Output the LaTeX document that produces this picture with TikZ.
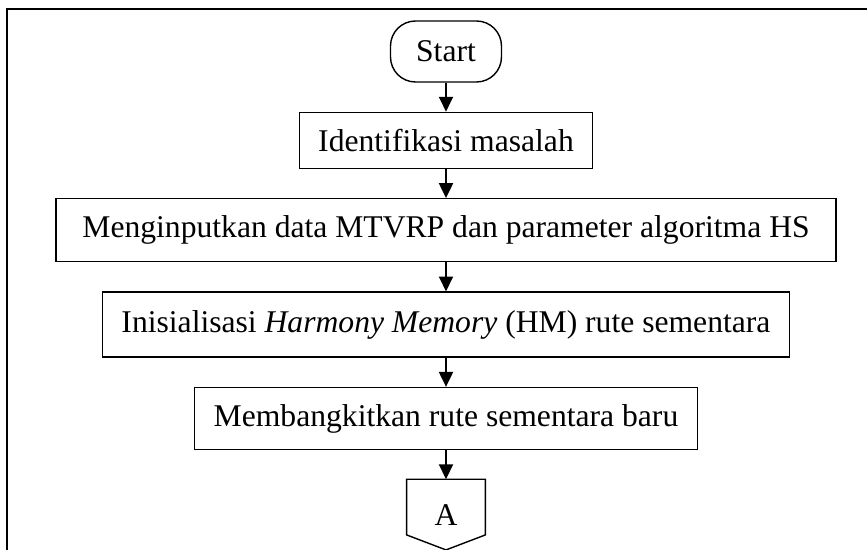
\documentclass[tikz,border=0pt]{standalone}
\usepackage{fontspec}
\setmainfont{Liberation Serif}
\usetikzlibrary{positioning}
\usetikzlibrary{arrows.meta}

\tikzset{
  boxtext/.style={font=\fontsize{18}{22}\selectfont},
  process/.style={boxtext, draw, line width=0.8pt, inner xsep=0.38cm},
  terminal/.style={boxtext, draw, line width=0.8pt, rounded corners=0.5cm, minimum width=2.22cm, minimum height=1.22cm},
  flow/.style={line width=1pt, -{Triangle[length=8.5pt,width=8pt]}},
}

\begin{document}
\begin{tikzpicture}[x=0.02cm, y=-0.02cm, node distance=0.58cm]
        \useasboundingbox (0,0) rectangle (867,550);
        \draw[line width=1.1pt] (7,550) -- (7,9) -- (867,9);
        \node[terminal] (start) at (446,51.5) {Start};
        \node[process, below=of start, minimum height=1.12cm] (ident) {Identifikasi masalah};
        \node[process, below=of ident, minimum height=1.26cm, minimum width=15.6cm] (input) {Menginputkan data MTVRP dan parameter algoritma HS};
        \node[process, below=of input, minimum height=1.3cm] (init) {Inisialisasi \textit{Harmony Memory} (HM) rute sementara};
        \node[process, below=of init, minimum height=1.24cm] (baru) {Membangkitkan rute sementara baru};
        \node[boxtext, below=of baru, minimum width=1.56cm, minimum height=1.4cm] (conA) {A};
        \draw[line width=0.8pt] (conA.north west) -- (conA.north east) -- ([yshift=0.3cm]conA.south east)
                -- (conA.south) -- ([yshift=0.3cm]conA.south west) -- cycle;
        \foreach \a/\b in {start/ident, ident/input, input/init, init/baru, baru/conA} {
                \draw[flow] (\a) -- (\b);
            }
    \end{tikzpicture}
\end{document}
